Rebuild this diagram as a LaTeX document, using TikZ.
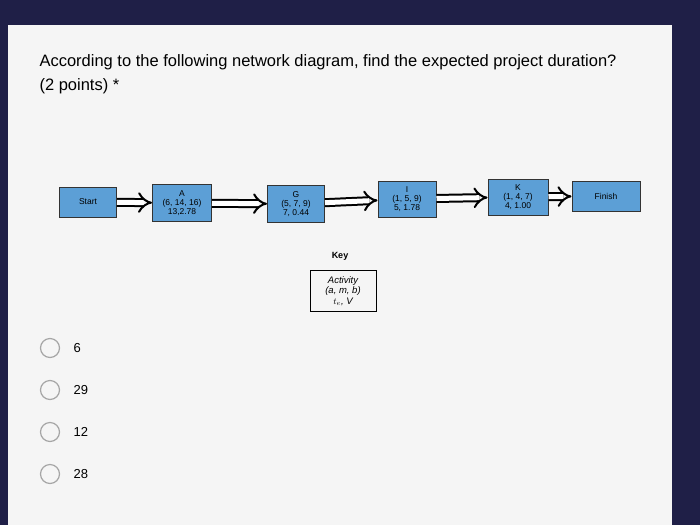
\documentclass[tikz,border=0pt]{standalone}
\usepackage{fontspec}
\setmainfont{Liberation Sans}
\usetikzlibrary{arrows.meta}
\begin{document}
\begin{tikzpicture}[x=1pt,y=-1pt,
  act/.style={draw=black!80, fill=blue!45!cyan!60!gray!80, line width=1pt, minimum height=34pt, align=center, font=\fontsize{8.5}{9}\selectfont, inner sep=1pt},
  conn/.style={double=white, double distance=5pt, line width=2pt, -{Implies[length=11pt]}, draw=black},
  opt/.style={circle, draw=gray!70, line width=1.2pt, minimum size=19pt, inner sep=0pt}]
\useasboundingbox (0,0) rectangle (700,525);
\fill[gray!60!blue!40!black] (0,0) rectangle (700,525);
\fill[gray!8] (8,25) rectangle (672,525);
\node[anchor=west, font=\fontsize{16.5}{19}\selectfont] (title1) at (36,62) {According to the following network diagram, find the expected project duration?};
\node[anchor=west, font=\fontsize{16.5}{19}\selectfont] (title2) at (36,86) {(2 points) *};
\node[act, minimum width=57pt, minimum height=30pt] (start) at (88,202) {Start};
\node[act, minimum width=59pt, minimum height=37pt] (a) at (182,203) {A\\(6, 14, 16)\\13,2.78};
\node[act, minimum width=57pt, minimum height=37pt] (g) at (296,204) {G\\(5, 7, 9)\\7, 0.44};
\node[act, minimum width=58pt, minimum height=36pt] (i) at (407,199) {I\\(1, 5, 9)\\5, 1.78};
\node[act, minimum width=60pt, minimum height=36pt] (k) at (518,197) {K\\(1, 4, 7)\\4, 1.00};
\node[act, minimum width=68pt, minimum height=30pt] (fin) at (606,196) {Finish};
\draw[conn] (start) -- (a);
\draw[conn] (a) -- (g);
\draw[conn] (g) -- (i);
\draw[conn] (i) -- (k);
\draw[conn] (k) -- (fin);
\node[font=\fontsize{9}{10}\selectfont\bfseries] (keyl) at (340,256) {Key};
\node[draw=black, line width=1pt, minimum width=66pt, minimum height=41pt, align=center, font=\fontsize{9.5}{10.5}\selectfont\itshape, inner sep=1pt] (key) at (343,291) {Activity\\(a, m, b)\\$t_e$, V};
\foreach \y/\t [count=\n] in {348/6, 390/29, 432/12, 474/28} {
  \node[opt] (o\n) at (50,\y) {};
  \node[anchor=west, font=\fontsize{13}{15}\selectfont] (l\n) at (70,\y) {\t};
}
\end{tikzpicture}
\end{document}
